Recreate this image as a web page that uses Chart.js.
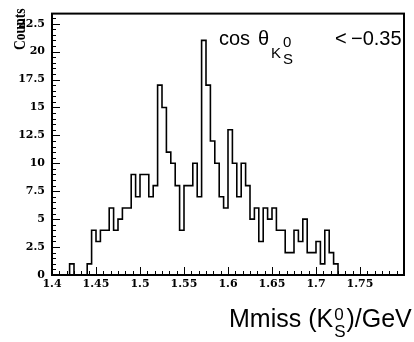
<!DOCTYPE html>
<html>
<head>
<meta charset="utf-8">
<script src="https://cdn.jsdelivr.net/npm/chart.js@4.4.1/dist/chart.umd.min.js"></script>
<style>
  html, body { margin: 0; padding: 0; background: #ffffff; }
</style>
</head>
<body>
<canvas id="mmiss" width="414" height="342"></canvas>
<script>
// histogram: 80 bins of 0.005 GeV from 1.4 to 1.8
var binStart = 1.4;
var binWidth = 0.005;
var counts = [
  0, 0, 0, 0, 1, 0, 0, 0, 1, 4,
  3, 4, 4, 6, 4, 5, 6, 6, 9, 7,
  9, 9, 7, 8, 17, 15, 11, 10, 8, 4,
  8, 8, 10, 7, 21, 17, 12, 10, 7, 6,
  13, 10, 7, 10, 8, 5, 6, 3, 6, 5,
  6, 4, 4, 2, 2, 4, 3, 5, 2, 2,
  3, 1, 4, 2, 1, 0, 0, 0, 0, 0,
  0, 0, 0, 0, 0, 0, 0, 0, 0, 0
];

var xTickValues = [1.4, 1.45, 1.5, 1.55, 1.6, 1.65, 1.7, 1.75, 1.8];
var xTickLabels = ['1.4', '1.45', '1.5', '1.55', '1.6', '1.65', '1.7', '1.75', ''];
var yTickValues = [0, 2.5, 5, 7.5, 10, 12.5, 15, 17.5, 20, 22.5];
var yTickLabels = ['0', '2.5', '5', '7.5', '10', '12.5', '15', '17.5', '20', '22.5'];

var points = counts.map(function (c, i) {
  return { x: binStart + i * binWidth, y: c };
});
points.push({ x: binStart + counts.length * binWidth, y: 0 });

var tickFont = { family: '"DejaVu Serif"', size: 11, weight: 'bold' };

// draws a stacked superscript / subscript pair, returns its width
function stacked(ctx, x, baseY, sup, sub, size, supDy, subDy) {
  ctx.font = size + 'px "Liberation Sans"';
  ctx.fillText(sup, x, baseY - supDy);
  ctx.fillText(sub, x, baseY + subDy);
  return Math.max(ctx.measureText(sup).width, ctx.measureText(sub).width);
}

var decorations = {
  id: 'decorations',
  afterDraw: function (chart) {
    var ctx = chart.ctx;
    var area = chart.chartArea;
    var xs = chart.scales.x;
    var ys = chart.scales.y;
    ctx.save();
    ctx.strokeStyle = '#000';
    ctx.fillStyle = '#000';

    // inner ticks
    ctx.lineWidth = 1;
    ctx.beginPath();
    for (var k = 0; k <= 48; k++) {
      var px = Math.round(xs.getPixelForValue(1.4 + k * 0.05 / 6)) + 0.5;
      var len = k % 6 === 0 ? 8 : 4;
      ctx.moveTo(px, area.bottom);
      ctx.lineTo(px, area.bottom - len);
    }
    for (var j = 0; j <= 46; j++) {
      var py = Math.round(ys.getPixelForValue(j * 0.5)) + 0.5;
      var ylen = j % 5 === 0 ? 8 : 4;
      ctx.moveTo(area.left, py);
      ctx.lineTo(area.left + ylen, py);
    }
    ctx.stroke();

    // frame
    ctx.lineWidth = 2;
    ctx.strokeRect(area.left, area.top, area.right - area.left, area.bottom - area.top);

    // y axis title, tall and narrow like the original
    ctx.save();
    ctx.translate(21, 50);
    ctx.rotate(-Math.PI / 2);
    ctx.scale(0.8, 1);
    ctx.font = 'bold 17px "Liberation Serif"';
    ctx.textAlign = 'left';
    ctx.textBaseline = 'middle';
    ctx.fillText('Counts', 0, 0);
    ctx.restore();

    // cut annotation
    ctx.textBaseline = 'alphabetic';
    ctx.textAlign = 'left';
    ctx.font = '20px "Liberation Sans"';
    ctx.fillText('cos', 219, 45);
    ctx.fillText('\u03b8', 258, 45);
    ctx.font = '15px "Liberation Sans"';
    ctx.fillText('K', 271, 58);
    stacked(ctx, 283, 58, '0', 'S', 15, 11, 6);
    ctx.font = '20px "Liberation Sans"';
    ctx.fillText('<', 335, 45);
    ctx.fillText('\u22120.35', 351, 45);

    // x axis title
    ctx.font = '25px "Liberation Sans"';
    var tx = 229;
    ctx.fillText('Mmiss (K', tx, 327);
    tx += ctx.measureText('Mmiss (K').width + 1;
    tx += stacked(ctx, tx, 327, '0', 'S', 17, 7, 10) + 1;
    ctx.font = '25px "Liberation Sans"';
    ctx.fillText(')/GeV', tx, 327);
    ctx.restore();
  }
};

var chart = new Chart(document.getElementById('mmiss'), {
  type: 'line',
  plugins: [decorations],
  data: {
    datasets: [
      {
        data: points,
        stepped: 'before',
        borderColor: '#000000',
        borderWidth: 1.6,
        pointRadius: 0,
        fill: false,
      },
    ]
  },
  options: {
    responsive: false,
    animation: false,
    layout: {
      padding: { top: 7, right: 10, left: 0, bottom: 0 }
    },
    plugins: {
      legend: { display: false },
      tooltip: { enabled: false },
    },
    scales: {
      x: {
        type: 'linear',
        min: 1.4,
        max: 1.8,
        border: { display: false },
        grid: { display: false, drawTicks: false },
        afterBuildTicks: function (scale) {
          scale.ticks = xTickValues.map(function (v) { return { value: v }; });
        },
        afterFit: function (scale) { scale.height = 67; },
        ticks: {
          autoSkip: false,
          maxRotation: 0,
          padding: 3,
          color: '#000000',
          font: tickFont,
          callback: function (value, index) { return xTickLabels[index]; }
        }
      },
      y: {
        min: 0,
        max: 23.4,
        border: { display: false },
        grid: { display: false, drawTicks: false },
        afterBuildTicks: function (scale) {
          scale.ticks = yTickValues.map(function (v) { return { value: v }; });
        },
        afterFit: function (scale) { scale.width = 52; },
        ticks: {
          padding: 7,
          color: '#000000',
          font: tickFont,
          callback: function (value, index) { return yTickLabels[index]; }
        }
      }
    }
  },
});
</script>
</body>
</html>
